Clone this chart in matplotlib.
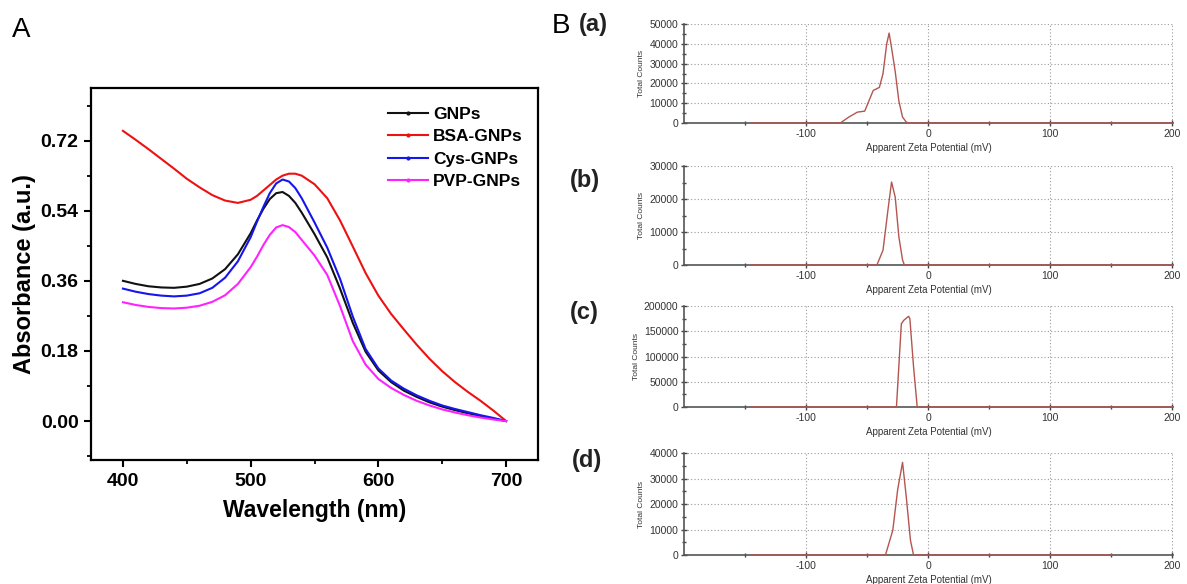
import matplotlib
matplotlib.use("Agg")
import matplotlib.pyplot as plt
from matplotlib.ticker import MultipleLocator, FixedLocator
from matplotlib.lines import Line2D

plt.rcParams['font.family'] = ['Liberation Sans', 'DejaVu Sans']
plt.rcParams['axes.unicode_minus'] = False

# ---------------- Panel A data (UV-Vis) ----------------
wavelength = [400, 410, 420, 430, 440, 450, 460, 470, 480, 490, 500, 505, 510, 515,
              520, 525, 530, 535, 540, 550, 560, 570, 580, 590, 600, 610, 620, 630,
              640, 650, 660, 670, 680, 690, 700]
gnps = [.360, .352, .346, .343, .342, .345, .352, .366, .390, .428, .482, .515, .545, .570,
        .585, .588, .578, .560, .535, .480, .420, .340, .252, .178, .130, .100, .078, .062,
        .048, .037, .028, .020, .013, .006, .000]
bsa_gnps = [.745, .722, .698, .673, .648, .622, .600, .580, .566, .560, .568, .578, .592, .606,
            .620, .630, .635, .635, .630, .608, .572, .515, .448, .380, .322, .275, .235, .196,
            .160, .128, .100, .075, .052, .027, .000]
cys_gnps = [.340, .332, .326, .322, .320, .322, .328, .342, .368, .410, .472, .512, .550, .585,
            .610, .620, .615, .598, .572, .510, .445, .365, .268, .185, .135, .104, .083, .066,
            .052, .040, .031, .023, .015, .008, .000]
pvp_gnps = [.305, .298, .293, .290, .289, .291, .296, .306, .323, .352, .395, .422, .452, .478,
            .497, .503, .498, .485, .465, .425, .375, .295, .205, .145, .108, .085, .067, .052,
            .040, .030, .022, .015, .009, .004, .000]
series_names = ['GNPs', 'BSA-GNPs', 'Cys-GNPs', 'PVP-GNPs']
series_colors = ['#111111', '#ee1111', '#1515ee', '#ff22ff']
a_xticks = [400, 500, 600, 700]
a_yticks = [0.00, 0.18, 0.36, 0.54, 0.72]

# ---------------- Panel B data (zeta potential) ----------------
zeta_a_x = [-145, -72, -65, -58, -52, -48, -45, -40, -37, -34, -32, -30, -27, -24, -21, -18, -16, 200]
zeta_a_y = [0, 0, 3000, 5500, 6000, 12000, 16500, 18000, 25000, 40000, 45500, 38000, 26000, 11000, 3000, 500, 0, 0]
zeta_b_x = [-145, -42, -37, -33, -30, -27, -24, -21, -19.5, 200]
zeta_b_y = [0, 0, 4500, 16600, 25200, 20600, 8500, 1500, 0, 0]
zeta_c_x = [-145, -26, -22, -20, -18, -16, -15, -12, -9, 200]
zeta_c_y = [0, 0, 165000, 172000, 176000, 180000, 175000, 80000, 0, 0]
zeta_d_x = [-145, -35, -29, -25, -21, -18, -14.5, -12, 150]
zeta_d_y = [0, 0, 9700, 25700, 36400, 23000, 5700, 0, 0]
zeta_labels = ['(a)', '(b)', '(c)', '(d)']
zeta_ymax = [50000, 30000, 200000, 40000]
zeta_ymajor = [10000, 10000, 50000, 10000]
zeta_yminor = [5000, 5000, 25000, 5000]
zeta_xticks = [-100, 0, 100, 200]

W, H = 1187, 584
fig = plt.figure(figsize=(W / 100, H / 100), dpi=100)

# ---------------- Panel A ----------------
axA = fig.add_axes([91 / W, 1 - 460 / H, (538 - 91) / W, (460 - 88) / H])
for ys, c in zip([gnps, bsa_gnps, cys_gnps, pvp_gnps], series_colors):
    axA.plot(wavelength, ys, color=c, lw=1.5)
axA.set_xlim(375, 725)
axA.set_ylim(-0.10, 0.855)
axA.set_xticks(a_xticks)
axA.set_yticks(a_yticks)
axA.set_yticklabels([f'{v:.2f}' for v in a_yticks])
axA.xaxis.set_minor_locator(MultipleLocator(50))
axA.yaxis.set_minor_locator(MultipleLocator(0.09))
axA.tick_params(which='major', direction='out', length=5, width=1.5, labelsize=14, pad=4)
axA.tick_params(which='minor', direction='out', length=3, width=1.3)
for lab in axA.get_xticklabels() + axA.get_yticklabels():
    lab.set_fontweight('bold')
for sp in axA.spines.values():
    sp.set_linewidth(1.6)
axA.set_xlabel('Wavelength (nm)', fontsize=16.5, fontweight='bold', labelpad=7)
axA.set_ylabel('Absorbance (a.u.)', fontsize=17, fontweight='bold', labelpad=3)
handles = [Line2D([0], [0], color=c, lw=1.5, marker='o', ms=2) for c in series_colors]
axA.legend(handles, series_names, loc='upper left', bbox_to_anchor=(0.664, 0.95),
           frameon=False, borderpad=0, borderaxespad=0, handlelength=2.3,
           handletextpad=0.3, labelspacing=0.42,
           prop={'weight': 'bold', 'size': 12.5})
fig.text(12 / W, 1 - 30 / H, 'A', fontsize=20, va='center', ha='left')
fig.text(552 / W, 1 - 26 / H, 'B', fontsize=20, va='center', ha='left')

# ---------------- Panel B ----------------
b_boxes = [(24, 123), (166, 265), (306, 407), (453, 555)]
label_pos = [(579, 25), (570, 180), (570, 312), (572, 461)]
zeta_x = [zeta_a_x, zeta_b_x, zeta_c_x, zeta_d_x]
zeta_y = [zeta_a_y, zeta_b_y, zeta_c_y, zeta_d_y]
for i in range(4):
    top, bot = b_boxes[i]
    ax = fig.add_axes([684 / W, 1 - bot / H, (1173 - 684) / W, (bot - top) / H])
    ax.plot(zeta_x[i], zeta_y[i], color='#b45550', lw=1.0, zorder=3, clip_on=False)
    ax.set_xlim(-200, 200.5)
    ax.set_ylim(0, zeta_ymax[i] * 1.002)
    ax.set_xticks(zeta_xticks)
    ax.xaxis.set_minor_locator(FixedLocator([-150, -50, 50, 150]))
    ax.yaxis.set_major_locator(MultipleLocator(zeta_ymajor[i]))
    ax.yaxis.set_minor_locator(MultipleLocator(zeta_yminor[i]))
    ax.grid(True, which='major', linestyle=(0, (1, 2)), color='#9a9a9a', lw=0.8)
    ax.spines['top'].set_visible(False)
    ax.spines['right'].set_visible(False)
    for s in ['left', 'bottom']:
        ax.spines[s].set_color('#555555')
        ax.spines[s].set_linewidth(1.2)
    ax.tick_params(which='major', direction='inout', length=4, width=1.0, color='#444444',
                   labelsize=7.5, labelcolor='#333333', pad=2)
    ax.tick_params(which='minor', direction='inout', length=3, width=1.0, color='#444444')
    ax.set_xlabel('Apparent Zeta Potential (mV)', fontsize=7, color='#333333', labelpad=3)
    ax.set_ylabel('Total Counts', fontsize=6, color='#333333', labelpad=3)
    lx, ly = label_pos[i]
    fig.text(lx / W, 1 - ly / H, zeta_labels[i], fontsize=17, fontweight='bold',
             va='center', ha='left', color='#222222')

fig.savefig('out.png', dpi=100)
